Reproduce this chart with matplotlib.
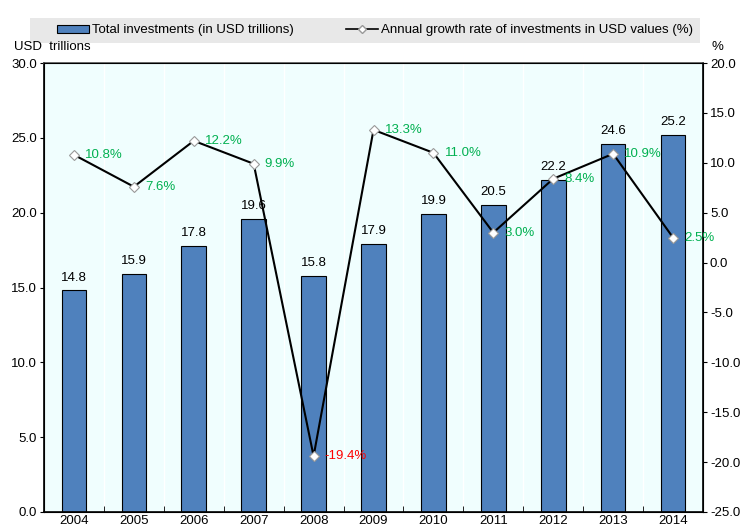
import numpy as np
import matplotlib.pyplot as plt
from matplotlib.patches import Rectangle
from matplotlib.lines import Line2D

plt.rcParams['font.family'] = ['Liberation Sans', 'DejaVu Sans']

years = ['2004', '2005', '2006', '2007', '2008', '2009', '2010', '2011', '2012', '2013', '2014']
investments = [14.8, 15.9, 17.8, 19.6, 15.8, 17.9, 19.9, 20.5, 22.2, 24.6, 25.2]
growth = [10.8, 7.6, 12.2, 9.9, -19.4, 13.3, 11.0, 3.0, 8.4, 10.9, 2.5]

fs = 9.5
fig = plt.figure(figsize=(7.41, 5.30), dpi=100)
ax = fig.add_axes([44 / 741, 18 / 530, 659 / 741, 449 / 530])
ax.set_facecolor('#f0fefe')

x = np.arange(len(years))
ax.bar(x, investments, width=0.41, color='#4f81bd', edgecolor='black', linewidth=0.8, zorder=2)
for xi, v in zip(x, investments):
    ax.annotate(f'{v:.1f}', (xi, v), xytext=(0, 5), textcoords='offset points',
                ha='center', va='bottom', fontsize=fs)

ax.set_xlim(-0.5, len(years) - 0.5)
ax.set_ylim(0, 30)
ax.set_yticks(np.arange(0, 30.1, 5))
ax.set_yticklabels([f'{t:.1f}' for t in np.arange(0, 30.1, 5)])
ax.set_xticks(x)
ax.set_xticklabels(years)
ax.set_xticks(np.arange(-0.5, len(years)), minor=True)
ax.tick_params(axis='x', which='major', length=0, labelsize=fs, pad=2)
ax.tick_params(axis='x', which='minor', length=4, direction='in')
ax.tick_params(axis='y', labelsize=fs, length=3, direction='out', pad=2)
ax.grid(axis='x', which='minor', color='white', linewidth=1, zorder=0)
for s in ax.spines.values():
    s.set_linewidth(1.2)
ax.spines['top'].set_color('#555555')

ax2 = ax.twinx()
ax2.plot(x, growth, color='black', linewidth=1.5, marker='D', markersize=5,
         markerfacecolor='white', markeredgecolor='#999999', markeredgewidth=0.8, zorder=3)
for xi, v in zip(x, growth):
    ax2.annotate(f'{v:.1f}%', (xi, v), xytext=(8, 0), textcoords='offset points',
                 ha='left', va='center', fontsize=fs,
                 color='#00b050' if v >= 0 else '#ff0000')
ax2.set_ylim(-25, 20)
ax2.set_yticks(np.arange(-25, 20.1, 5))
ax2.set_yticklabels([f'{t:.1f}' for t in np.arange(-25, 20.1, 5)])
ax2.tick_params(axis='y', labelsize=fs, length=3, direction='out', pad=2)

fig.text(14 / 741, 1 - 47 / 530, 'USD  trillions', fontsize=fs, va='center', ha='left')
fig.text(712 / 741, 1 - 47 / 530, '%', fontsize=fs, va='center', ha='left')

fig.patches.append(Rectangle((30 / 741, 1 - 43 / 530), 670 / 741, 25 / 530,
                             transform=fig.transFigure, facecolor='#e8e8e8',
                             edgecolor='none', zorder=0))
handles = [Rectangle((0, 0), 1, 1, facecolor='#4f81bd', edgecolor='black', linewidth=0.8),
           Line2D([], [], color='black', linewidth=1.2, marker='D', markersize=4,
                  markerfacecolor='white', markeredgecolor='#999999')]
fig.legend(handles, ['Total investments (in USD trillions)',
                     'Annual growth rate of investments in USD values (%)'],
           loc='center', bbox_to_anchor=(375 / 741, 1 - 30.5 / 530), ncol=2,
           frameon=False, fontsize=fs, handlelength=2.4, handleheight=0.6,
           columnspacing=4, handletextpad=0.2)

fig.savefig('out.png', dpi=100)
